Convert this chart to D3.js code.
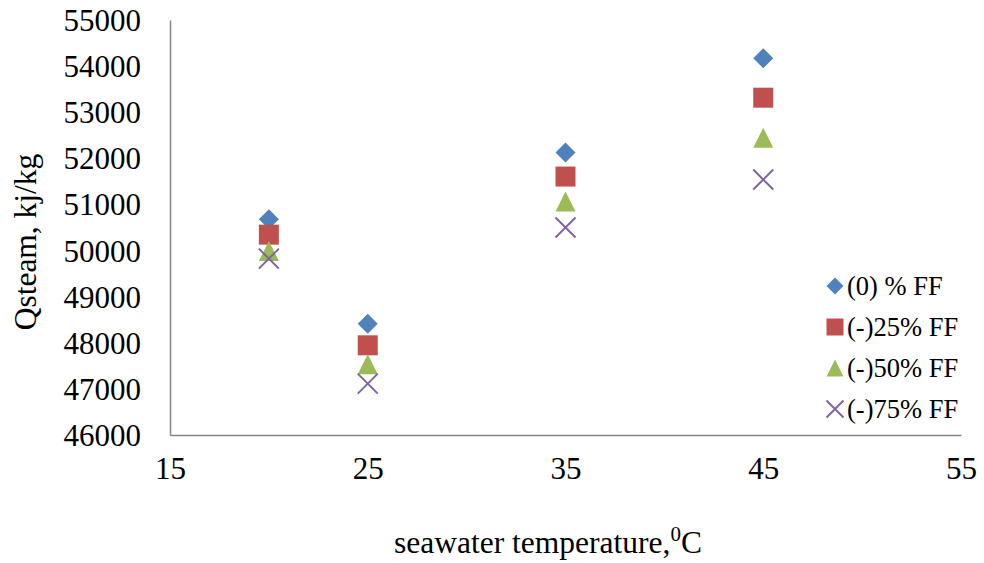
<!DOCTYPE html>
<html>
<head>
<meta charset="utf-8">
<script src="https://cdn.jsdelivr.net/npm/d3@7"></script>
<style>
  html, body { margin: 0; padding: 0; background: #fff; }
  svg { display: block; font-family: "Liberation Serif", "Times New Roman", serif; }
</style>
</head>
<body>
<svg id="chart" width="984" height="563"></svg>
<script>
// Seawater temperature (°C) on the x axis
const temperatures = [20, 25, 35, 45];

// Steam heat requirement (kJ/kg) per fouling-factor case
const seriesNames = ["(0) % FF", "(-)25% FF", "(-)50% FF", "(-)75% FF"];
const ff0  = [50680, 48410, 52125, 54170];
const ff25 = [50345, 47945, 51605, 53315];
const ff50 = [49990, 47535, 51065, 52445];
const ff75 = [49825, 47115, 50500, 51540];

const xTicks = [15, 25, 35, 45, 55];
const yTicks = [46000, 47000, 48000, 49000, 50000, 51000, 52000, 53000, 54000, 55000];

const colors = ["#4F81BD", "#C0504D", "#9BBB59", "#8064A2"];
const shapes = ["diamond", "square", "triangle", "cross"];
const seriesValues = [ff0, ff25, ff50, ff75];

const svg = d3.select("#chart");
const margin = { left: 170, right: 23, top: 20, bottom: 128 };
const W = 984, H = 563;

const x = d3.scaleLinear().domain([15, 55]).range([margin.left, W - margin.right]);
const y = d3.scaleLinear().domain([46000, 55000]).range([H - margin.bottom, margin.top]);

// Axes: plain grey lines, no tick marks
const axisColor = "#868686";
const xAxis = svg.append("g")
  .attr("transform", `translate(0,${y(46000)})`)
  .call(d3.axisBottom(x).tickValues(xTicks).tickSize(0).tickPadding(22).tickFormat(d3.format("d")));
const yAxis = svg.append("g")
  .attr("transform", `translate(${x(15)},0)`)
  .call(d3.axisLeft(y).tickValues(yTicks).tickSize(0).tickPadding(29).tickFormat(d3.format("d")));

[xAxis, yAxis].forEach(g => {
  g.select(".domain").attr("stroke", axisColor).attr("stroke-width", 1.5);
  g.selectAll("text")
    .attr("font-family", "'Liberation Serif', 'Times New Roman', serif")
    .attr("font-size", 31).attr("fill", "#000");
});
yAxis.selectAll("text").attr("dy", "0.34em");
xAxis.selectAll("text").attr("dy", "0.71em");

// Marker path generator
function markerPath(shape, s) {
  const h = s / 2;
  switch (shape) {
    case "diamond": return `M0,${-h}L${h},0L0,${h}L${-h},0Z`;
    case "square": return `M${-h},${-h}H${h}V${h}H${-h}Z`;
    case "triangle": return `M0,${-h}L${h},${h}L${-h},${h}Z`;
    case "cross": return `M${-h},${-h}L${h},${h}M${h},${-h}L${-h},${h}`;
  }
}
function styleMarker(sel, i) {
  if (shapes[i] === "cross") {
    sel.attr("fill", "none").attr("stroke", colors[i]).attr("stroke-width", 2);
  } else {
    sel.attr("fill", colors[i]).attr("stroke", "none");
  }
}

// Data points
seriesValues.forEach((vals, i) => {
  const pts = temperatures.map((t, j) => ({ t, v: vals[j] }));
  svg.append("g").selectAll("path")
    .data(pts)
    .join("path")
    .attr("transform", d => `translate(${x(d.t)},${y(d.v)})`)
    .attr("d", markerPath(shapes[i], 20))
    .call(styleMarker, i);
});

// Legend
const legend = svg.append("g").attr("transform", "translate(835,286)");
seriesNames.forEach((name, i) => {
  const row = legend.append("g").attr("transform", `translate(0,${i * 41})`);
  row.append("path").attr("d", markerPath(shapes[i], 17)).call(styleMarker, i);
  row.append("text")
    .attr("x", 12).attr("y", 0).attr("dy", "0.34em")
    .attr("font-size", 26.5).attr("fill", "#000")
    .text(name);
});

// Axis titles
const xTitle = svg.append("text")
  .attr("x", 548).attr("y", 553)
  .attr("text-anchor", "middle")
  .attr("font-size", 31.5).attr("fill", "#000");
xTitle.append("tspan").text("seawater temperature,");
xTitle.append("tspan").attr("font-size", 21).attr("dy", -12).text("0");
xTitle.append("tspan").attr("dy", 12).text("C");

svg.append("text")
  .attr("transform", "translate(36,242) rotate(-90)")
  .attr("text-anchor", "middle")
  .attr("font-size", 31.5).attr("fill", "#000")
  .text("Qsteam, kj/kg");
</script>
</body>
</html>
